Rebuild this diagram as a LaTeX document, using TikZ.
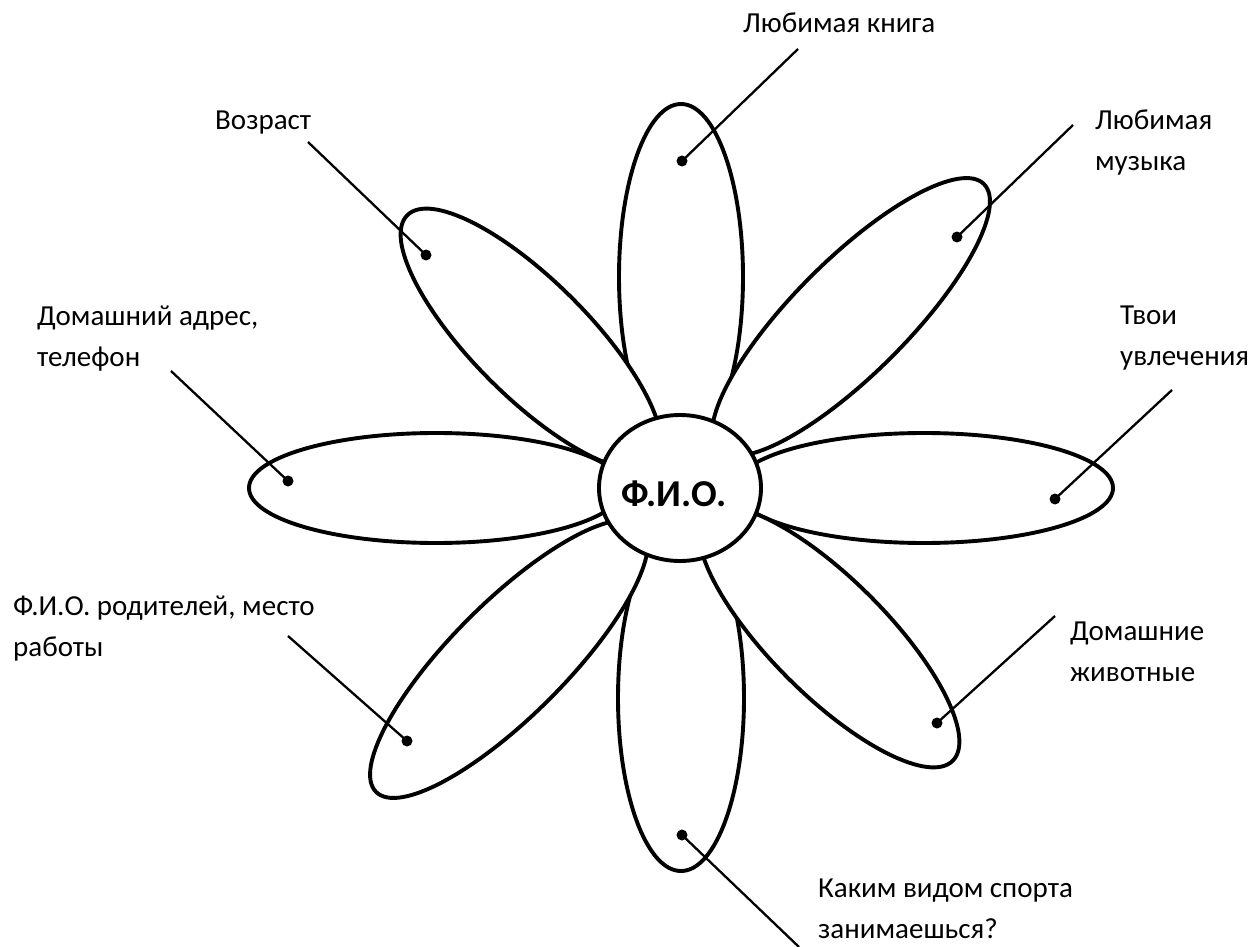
\documentclass[tikz,border=0pt]{standalone}
\usepackage{fontspec}
\setmainfont{Carlito}
\usetikzlibrary{shapes.geometric}
\begin{document}
\begin{tikzpicture}[x=1pt,y=-1pt,
  petal/.style={draw=black, fill=white, line width=3.9pt},
  leader/.style={draw=black, line width=2.3pt},
  dot/.style={circle, fill=black, inner sep=0pt, minimum size=11pt},
  lbl/.style={anchor=base west, inner sep=0pt, font=\fontsize{29}{41}\selectfont}]
\useasboundingbox (0,0) rectangle (1254,947);
% axis-aligned petals
\draw[petal] (436,488) ellipse (187 and 55);
\draw[petal] (924,488) ellipse (189 and 55);
\draw[petal] (681,277) ellipse (62 and 173);
\draw[petal] (681,698) ellipse (63 and 173);
% diagonal petals
\draw[petal, shift={(531,339)}, rotate=135] (0,0) ellipse (175 and 58);
\draw[petal, shift={(851,317)}, rotate=45] (0,0) ellipse (188 and 57);
\draw[petal, shift={(509,659)}, rotate=45] (0,0) ellipse (188 and 57);
\draw[petal, shift={(829,637)}, rotate=135] (0,0) ellipse (175 and 58);
% centre
\node[draw=black, fill=white, ellipse, line width=3.9pt, inner sep=0pt,
      minimum width=162, minimum height=146] (fio) at (680,488) {};
\node[font=\fontsize{38}{42}\selectfont\bfseries, inner sep=0pt] (fiotext) at (674,494) {Ф.И.О.};
% labels
\node[lbl] (l1) at (743,33) {Любимая книга};
\node[lbl] (l2) at (215,130) {Возраст};
\node[lbl] (l3) at (1095,130) {\begin{tabular}[t]{@{}l@{}}Любимая\\музыка\end{tabular}};
\node[lbl] (l4) at (37,325) {\begin{tabular}[t]{@{}l@{}}Домашний адрес,\\телефон\end{tabular}};
\node[lbl] (l5) at (1120,324) {\begin{tabular}[t]{@{}l@{}}Твои\\увлечения\end{tabular}};
\node[lbl] (l6) at (13,615) {\begin{tabular}[t]{@{}l@{}}Ф.И.О. родителей, место\\работы\end{tabular}};
\node[lbl] (l7) at (1070,640) {\begin{tabular}[t]{@{}l@{}}Домашние\\животные\end{tabular}};
\node[lbl] (l8) at (818,897) {\begin{tabular}[t]{@{}l@{}}Каким видом спорта\\занимаешься?\end{tabular}};
% dots
\node[dot] (d1) at (682,161) {};
\node[dot] (d2) at (426,255) {};
\node[dot] (d3) at (957,237) {};
\node[dot] (d4) at (288,481) {};
\node[dot] (d5) at (1055,499) {};
\node[dot] (d6) at (407,741) {};
\node[dot] (d7) at (937,723) {};
\node[dot] (d8) at (682,835) {};
% free ends of leader lines
\coordinate (e1) at (798,49);
\coordinate (e2) at (308,142);
\coordinate (e3) at (1073,125);
\coordinate (e4) at (171,371);
\coordinate (e5) at (1172,390);
\coordinate (e6) at (288,636);
\coordinate (e7) at (1055,616);
\coordinate (e8) at (799,947);
\foreach \i in {1,...,8} {\draw[leader] (d\i.center) -- (e\i);}
\end{tikzpicture}
\end{document}
